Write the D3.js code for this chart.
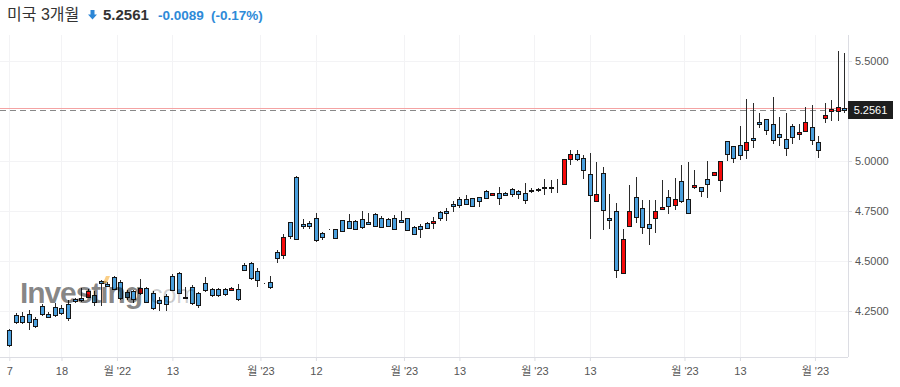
<!DOCTYPE html>
<html>
<head>
<meta charset="utf-8">
<script src="https://cdn.jsdelivr.net/npm/d3@7"></script>
<style>
  body { margin: 0; background: #fff; }
</style>
</head>
<body>
<div id="chart"></div>
<script>
const title = "미국 3개월";
const lastPrice = "5.2561";
const change = "-0.0089";
const changePct = "(-0.17%)";
const lastValue = 5.2561;
const prevClose = 5.265;

const open = [4.155,4.230,4.225,4.234,4.209,4.277,4.235,4.269,4.264,4.284,
  4.309,4.315,4.319,4.330,4.400,4.384,4.419,4.397,4.344,4.349,
  4.339,4.364,4.342,4.304,4.325,4.425,4.439,4.322,4.372,4.339,
  4.389,4.359,4.359,4.359,4.356,4.359,4.480,4.489,4.452,4.389,
  4.397,4.545,4.529,4.694,4.919,4.685,4.689,4.714,4.640,4.659,
  4.659,4.704,4.699,4.699,4.712,4.695,4.734,4.714,4.710,4.714,
  4.704,4.714,4.669,4.674,4.689,4.689,4.744,4.750,4.785,4.809,
  4.809,4.814,4.819,4.849,4.829,4.839,4.839,4.859,4.849,4.839,
  4.857,4.854,4.872,4.864,4.869,4.887,5.010,5.034,5.014,4.934,
  4.802,4.939,4.714,4.749,4.439,4.675,4.819,4.764,4.684,4.714,
  4.759,4.822,4.779,4.899,4.809,4.872,4.869,4.909,4.929,4.905,
  5.099,5.074,5.079,5.057,5.114,5.194,5.209,5.184,5.134,5.109,
  5.174,5.134,5.149,5.169,5.094,5.214,5.249,5.249,5.264];

const high = [4.160,4.240,4.245,4.255,4.220,4.285,4.245,4.290,4.280,4.305,
  4.315,4.365,4.360,4.352,4.405,4.395,4.425,4.405,4.355,4.355,
  4.409,4.370,4.350,4.319,4.335,4.435,4.445,4.372,4.380,4.345,
  4.419,4.365,4.365,4.365,4.370,4.385,4.492,4.495,4.465,4.390,
  4.425,4.555,4.635,4.697,4.924,4.712,4.702,4.739,4.645,4.661,
  4.662,4.707,4.735,4.705,4.749,4.740,4.739,4.724,4.715,4.732,
  4.749,4.717,4.674,4.687,4.694,4.719,4.752,4.764,4.802,4.822,
  4.829,4.817,4.822,4.855,4.842,4.872,4.845,4.867,4.855,4.892,
  4.867,4.865,4.909,4.904,4.909,5.010,5.055,5.055,5.030,5.039,
  4.997,4.972,4.835,4.789,4.659,4.880,4.922,4.805,4.805,4.805,
  4.905,4.855,4.914,4.982,4.995,4.954,4.872,5.002,4.946,5.001,
  5.101,5.076,5.174,5.309,5.289,5.239,5.211,5.319,5.219,5.239,
  5.184,5.184,5.269,5.280,5.124,5.289,5.305,5.550,5.539];

const low = [4.070,4.185,4.185,4.155,4.165,4.225,4.215,4.220,4.230,4.200,
  4.290,4.295,4.315,4.277,4.277,4.370,4.355,4.305,4.305,4.289,
  4.330,4.290,4.255,4.252,4.252,4.350,4.335,4.308,4.280,4.265,
  4.345,4.320,4.320,4.325,4.350,4.300,4.450,4.405,4.372,4.385,
  4.360,4.492,4.509,4.610,4.609,4.659,4.662,4.594,4.604,4.657,
  4.610,4.645,4.659,4.654,4.662,4.679,4.670,4.665,4.669,4.655,
  4.690,4.652,4.632,4.617,4.659,4.659,4.700,4.700,4.747,4.767,
  4.779,4.770,4.769,4.809,4.825,4.779,4.825,4.819,4.812,4.787,
  4.842,4.847,4.830,4.839,4.839,4.884,4.980,5.002,4.909,4.609,
  4.800,4.655,4.659,4.414,4.437,4.672,4.692,4.635,4.580,4.639,
  4.757,4.734,4.755,4.789,4.735,4.862,4.822,4.814,4.927,4.844,
  4.999,4.989,5.005,5.009,5.064,5.164,5.129,5.084,5.075,5.025,
  5.084,5.104,5.144,5.079,5.017,5.189,5.200,5.200,5.239];

const close = [4.080,4.194,4.197,4.194,4.177,4.235,4.222,4.230,4.242,4.214,
  4.299,4.304,4.352,4.297,4.389,4.375,4.359,4.314,4.322,4.309,
  4.364,4.297,4.264,4.289,4.285,4.355,4.342,4.314,4.292,4.280,
  4.355,4.329,4.329,4.335,4.365,4.310,4.455,4.414,4.405,4.389,
  4.369,4.515,4.619,4.624,4.612,4.674,4.674,4.607,4.620,4.659,
  4.614,4.649,4.665,4.659,4.670,4.684,4.674,4.670,4.674,4.659,
  4.694,4.657,4.637,4.659,4.664,4.700,4.714,4.739,4.774,4.780,
  4.785,4.774,4.799,4.814,4.839,4.814,4.830,4.835,4.834,4.804,
  4.849,4.862,4.864,4.872,4.869,5.009,5.034,5.010,4.955,4.829,
  4.835,4.754,4.704,4.455,4.612,4.749,4.719,4.669,4.664,4.749,
  4.769,4.774,4.809,4.800,4.739,4.882,4.849,4.884,4.944,4.999,
  5.035,5.014,5.029,5.094,5.104,5.184,5.154,5.104,5.119,5.064,
  5.119,5.144,5.194,5.104,5.054,5.229,5.259,5.269,5.2561];

// x tick positions are candle indexes (month ticks sit between two candles)
const xTickIdx = [0, 8, 16.5, 25, 38.5, 47, 60.5, 69, 80.5, 89, 103.5, 112, 123.5];
const xTickLabels = ["7", "18", "월 '22", "13", "월 '23", "12", "월 '23", "13", "월 '23", "13", "월 '23", "13", "월 '23"];
const yTicks = [4.25, 4.5, 4.75, 5.0, 5.5];

const W = 900, H = 387;
const plot = { left: 0, right: 848, top: 35, bottom: 357 };
const font = "'Liberation Sans', Arial, 'Noto Sans CJK KR', sans-serif";

const svg = d3.select("#chart")
  .append("svg")
  .attr("width", W)
  .attr("height", H)
  .style("font-family", font);

const candles = open.map((o, i) => ({ i, o, h: high[i], l: low[i], c: close[i] }));

const x = d3.scaleLinear()
  .domain([0, candles.length - 1])
  .range([9.3, 844.3]);

const y = d3.scaleLinear()
  .domain([4.02, 5.63])
  .range([plot.bottom, plot.top]);

// grid
svg.append("g")
  .selectAll("line")
  .data(xTickIdx)
  .enter()
  .append("line")
  .attr("x1", d => Math.round(x(d)) + 0.5)
  .attr("x2", d => Math.round(x(d)) + 0.5)
  .attr("y1", plot.top)
  .attr("y2", plot.bottom)
  .attr("stroke", "#f3f3f5");

svg.append("g")
  .selectAll("line")
  .data(yTicks)
  .enter()
  .append("line")
  .attr("x1", plot.left)
  .attr("x2", plot.right)
  .attr("y1", d => Math.round(y(d)) + 0.5)
  .attr("y2", d => Math.round(y(d)) + 0.5)
  .attr("stroke", "#f3f3f5");

// axes
const xAxis = svg.append("g")
  .attr("transform", `translate(0,${plot.bottom})`)
  .call(d3.axisBottom(x)
    .tickValues(xTickIdx)
    .tickFormat((d, i) => xTickLabels[i])
    .tickSize(4)
    .tickPadding(6));
xAxis.select(".domain").remove();
xAxis.selectAll(".tick line").attr("stroke", "#dcdde3");
xAxis.selectAll("text")
  .style("font-size", "11px")
  .style("font-family", font)
  .attr("fill", "#555");
svg.append("line")
  .attr("x1", plot.left).attr("x2", plot.right)
  .attr("y1", plot.bottom + 0.5).attr("y2", plot.bottom + 0.5)
  .attr("stroke", "#dcdde3");

const yAxis = svg.append("g")
  .attr("transform", `translate(${plot.right},0)`)
  .call(d3.axisRight(y)
    .tickValues(yTicks)
    .tickFormat(d3.format(".4f"))
    .tickSize(4));
yAxis.select(".domain").remove();
yAxis.selectAll(".tick line").attr("stroke", "#dcdde3");
yAxis.selectAll("text")
  .style("font-size", "11px")
  .style("font-family", font)
  .attr("fill", "#555");
svg.append("line")
  .attr("x1", plot.right + 0.5).attr("x2", plot.right + 0.5)
  .attr("y1", plot.top).attr("y2", plot.bottom)
  .attr("stroke", "#dcdde3");

// price lines
svg.append("line")
  .attr("x1", plot.left).attr("x2", plot.right)
  .attr("y1", Math.round(y(prevClose)) + 0.5)
  .attr("y2", Math.round(y(prevClose)) + 0.5)
  .attr("stroke", "#f4a3a3");

svg.append("line")
  .attr("x1", plot.left).attr("x2", plot.right)
  .attr("y1", Math.round(y(lastValue)) + 0.5)
  .attr("y2", Math.round(y(lastValue)) + 0.5)
  .attr("stroke", "#888")
  .attr("stroke-dasharray", "6,4");

// candles
const g = svg.append("g");
const cx = d => Math.round(x(d.i));

g.selectAll("line.wick")
  .data(candles)
  .enter()
  .append("line")
  .attr("class", "wick")
  .attr("x1", d => cx(d) + 0.5)
  .attr("x2", d => cx(d) + 0.5)
  .attr("y1", d => Math.round(y(d.h)))
  .attr("y2", d => Math.round(y(d.l)))
  .attr("stroke", "#2b2b2b");

g.selectAll("rect.body")
  .data(candles)
  .enter()
  .append("rect")
  .attr("class", "body")
  .attr("x", d => cx(d) - 1.5)
  .attr("y", d => Math.round(y(Math.max(d.o, d.c))) + 0.5)
  .attr("width", 4)
  .attr("height", d => Math.max(0, Math.round(y(Math.min(d.o, d.c))) - Math.round(y(Math.max(d.o, d.c)))))
  .attr("fill", d => d.c > d.o ? "#f50a0a" : "#4a9fdd")
  .attr("stroke", "#151515");

// watermark over the marks
const wm = svg.append("g");
wm.append("text")
  .attr("x", 20)
  .attr("y", 303)
  .attr("textLength", 123)
  .style("font-size", "30px")
  .style("font-weight", "bold")
  .style("font-family", font)
  .attr("fill", "#000")
  .attr("fill-opacity", 0.48)
  .text("Investing");
wm.append("text")
  .attr("x", 143)
  .attr("y", 303)
  .style("font-size", "25px")
  .style("font-family", font)
  .attr("fill", "#000")
  .attr("fill-opacity", 0.2)
  .text(".com");
wm.append("path")
  .attr("d", "M103,283 L106,276 L110,276 L107,283 Z")
  .attr("fill", "#f5a623")
  .attr("fill-opacity", 0.55);

// last price tag
svg.append("rect")
  .attr("x", plot.right)
  .attr("y", Math.round(y(lastValue)) - 9)
  .attr("width", 45)
  .attr("height", 18)
  .attr("fill", "#1e1e1e");
svg.append("text")
  .attr("x", plot.right + 22.5)
  .attr("y", Math.round(y(lastValue)) + 4)
  .attr("text-anchor", "middle")
  .style("font-size", "11px")
  .attr("fill", "#fff")
  .text(lastPrice);

// header
svg.append("text")
  .attr("x", 7)
  .attr("y", 20)
  .style("font-size", "16px")
  .attr("fill", "#333")
  .text(title);

svg.append("path")
  .attr("d", "M90.5,10 H94.5 V14.5 H97 L92.5,19.5 L88,14.5 H90.5 Z")
  .attr("fill", "#2c86d6");

svg.append("text")
  .attr("x", 103)
  .attr("y", 19.5)
  .style("font-size", "15px")
  .style("font-weight", "bold")
  .attr("fill", "#333")
  .text(lastPrice);

svg.append("text")
  .attr("x", 158)
  .attr("y", 19.5)
  .style("font-size", "13.5px")
  .style("font-weight", "bold")
  .attr("fill", "#2e8ad8")
  .text(change);

svg.append("text")
  .attr("x", 211)
  .attr("y", 19.5)
  .style("font-size", "13.5px")
  .style("font-weight", "bold")
  .attr("fill", "#2e8ad8")
  .text(changePct);
</script>
</body>
</html>
